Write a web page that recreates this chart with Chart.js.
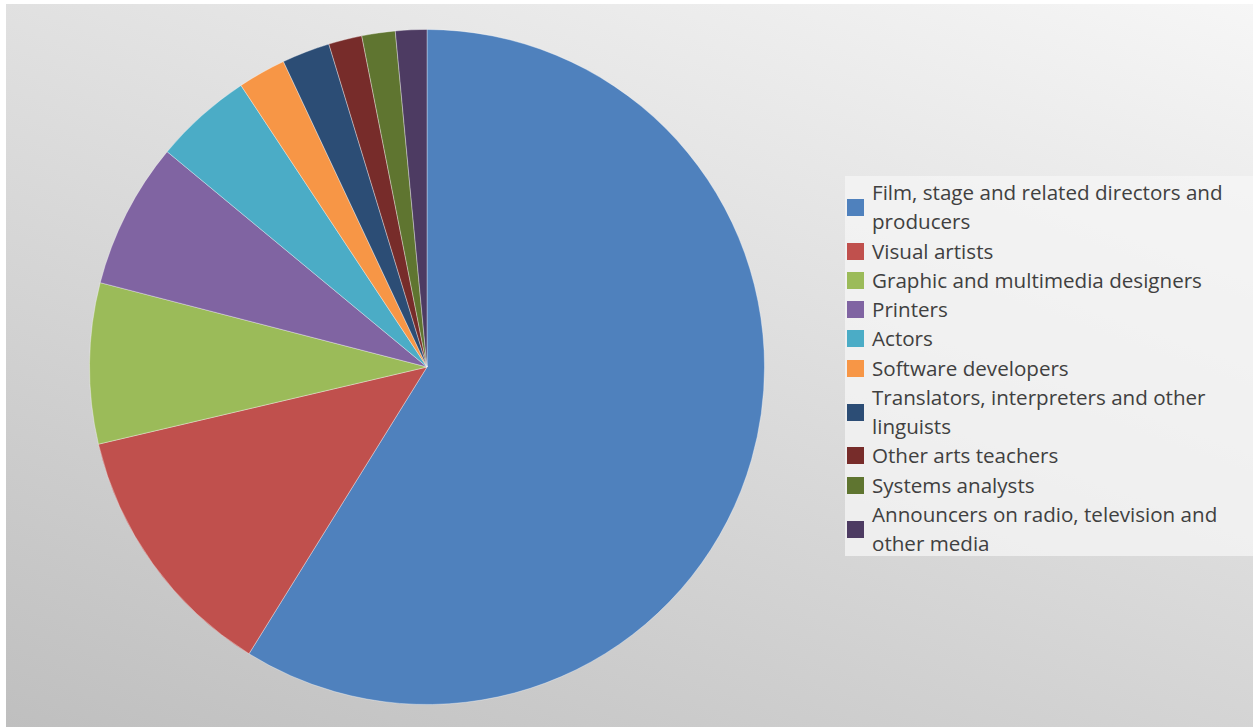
<!DOCTYPE html>
<html lang="en">
<head>
<meta charset="UTF-8">
<title>Occupations pie chart</title>
<script src="https://cdn.jsdelivr.net/npm/chart.js@4"></script>
<style>
    html, body {
        margin: 0;
        padding: 0;
        background: #ffffff;
    }
    .panel {
        position: absolute;
        left: 6px;
        top: 4px;
        width: 1247px;
        height: 723px;
        background: linear-gradient(200deg, #f6f6f6 0%, #e0e0e0 40%, #bfbfbf 100%);
    }
    .pie-box {
        position: absolute;
        left: 89px;
        top: 29px;
        width: 676px;
        height: 676px;
    }
    .legend {
        position: absolute;
        left: 845px;
        top: 176px;
        width: 408px;
        height: 380px;
        background: rgba(245, 245, 245, 0.75);
        font-family: "Open Sans", sans-serif;
        font-size: 20.6px;
        color: #404040;
        box-sizing: border-box;
        padding: 2px 0 0 2px;
    }
    .legend .item {
        display: flex;
        align-items: center;
        line-height: 29.25px;
    }
    .legend .swatch {
        width: 17px;
        height: 17px;
        flex: 0 0 17px;
        margin-right: 8px;
    }
    .legend .text {
        width: 364px;
    }
</style>
</head>
<body>
<div class="panel"></div>
<div class="pie-box"><canvas id="pieChart"></canvas></div>
<div class="legend" id="legend"></div>

<script>
    // Occupation categories, in the order the slices run clockwise from 12 o'clock
    const categories = [
        'Film, stage and related directors and producers',
        'Visual artists',
        'Graphic and multimedia designers',
        'Printers',
        'Actors',
        'Software developers',
        'Translators, interpreters and other linguists',
        'Other arts teachers',
        'Systems analysts',
        'Announcers on radio, television and other media'
    ];
    // share of each category (%)
    const shares = [58.9, 12.5, 7.7, 7.0, 4.7, 2.3, 2.3, 1.6, 1.6, 1.5];
    const colors = ['#4f81bd', '#c0504d', '#9bbb59', '#8064a2', '#4bacc6',
                    '#f79646', '#2c4d75', '#772c2a', '#5f7530', '#4d3b62'];

    const ctx = document.getElementById('pieChart').getContext('2d');
    const chart = new Chart(ctx, {
        type: 'pie',
        data: {
            labels: categories,
            datasets: [{
                data: shares,
                backgroundColor: colors,
                borderColor: 'rgba(255, 255, 255, 0.35)',
                borderWidth: 1
            }]
        },
        options: {
            responsive: true,
            maintainAspectRatio: false,
            animation: false,
            layout: { padding: 0 },
            plugins: {
                legend: { display: false },
                tooltip: { enabled: false }
            }
        }
    });

    // legend built from the same arrays, wrapped like the original
    const legend = document.getElementById('legend');
    categories.forEach((name, i) => {
        const row = document.createElement('div');
        row.className = 'item';
        row.innerHTML = '<span class="swatch" style="background:' + colors[i] + '"></span>' +
                        '<span class="text">' + name + '</span>';
        legend.appendChild(row);
    });
</script>
</body>
</html>
